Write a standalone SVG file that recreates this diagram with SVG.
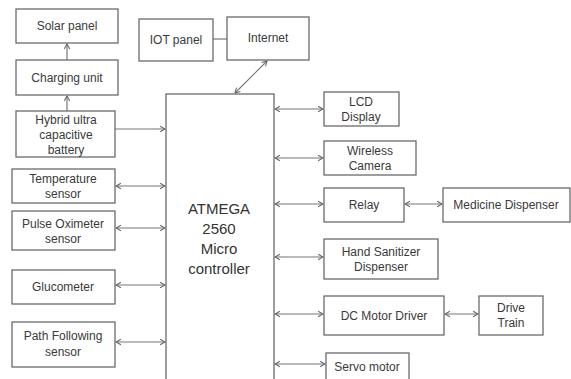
<svg xmlns="http://www.w3.org/2000/svg" width="571" height="379" viewBox="0 0 571 379">
<style>
.box{fill:#fff;stroke:#6b6b6b;stroke-width:1.3}
.t{font-family:"Liberation Sans",Arial,sans-serif;font-size:12px;fill:#3a3a3a;text-anchor:middle}
.big{font-family:"Liberation Sans",Arial,sans-serif;font-size:15px;fill:#333;text-anchor:middle}
.c{stroke:#777;stroke-width:1.2;fill:none}
</style>
<defs>
<marker id="ah" viewBox="0 0 10 10" refX="9" refY="5" markerWidth="7" markerHeight="7" markerUnits="userSpaceOnUse" orient="auto-start-reverse">
<path d="M2,1 L9,5 L2,9" fill="none" stroke="#666" stroke-width="1.5"/>
</marker>
</defs>
<rect width="571" height="379" fill="#fff"/>
<g id="connectors">
<line class="c" x1="67" y1="111" x2="67" y2="96" marker-end="url(#ah)"/>
<line class="c" x1="67" y1="60" x2="67" y2="44" marker-end="url(#ah)"/>
<line class="c" x1="213" y1="39" x2="227" y2="39"/>
<line class="c" x1="267" y1="61" x2="235" y2="93" marker-start="url(#ah)" marker-end="url(#ah)"/>
<line class="c" x1="115" y1="129" x2="165" y2="129" marker-end="url(#ah)"/>
<line class="c" x1="116" y1="186" x2="165" y2="186" marker-start="url(#ah)" marker-end="url(#ah)"/>
<line class="c" x1="116" y1="228" x2="165" y2="228" marker-start="url(#ah)" marker-end="url(#ah)"/>
<line class="c" x1="116" y1="285" x2="165" y2="285" marker-start="url(#ah)" marker-end="url(#ah)"/>
<line class="c" x1="116" y1="342" x2="165" y2="342" marker-start="url(#ah)" marker-end="url(#ah)"/>
<line class="c" x1="275" y1="109" x2="323" y2="109" marker-start="url(#ah)" marker-end="url(#ah)"/>
<line class="c" x1="275" y1="158" x2="323" y2="158" marker-start="url(#ah)" marker-end="url(#ah)"/>
<line class="c" x1="275" y1="204" x2="323" y2="204" marker-start="url(#ah)" marker-end="url(#ah)"/>
<line class="c" x1="405" y1="204" x2="442" y2="204" marker-start="url(#ah)" marker-end="url(#ah)"/>
<line class="c" x1="275" y1="257" x2="323" y2="257" marker-start="url(#ah)" marker-end="url(#ah)"/>
<line class="c" x1="275" y1="314" x2="323" y2="314" marker-start="url(#ah)" marker-end="url(#ah)"/>
<line class="c" x1="445" y1="314" x2="478" y2="314" marker-start="url(#ah)" marker-end="url(#ah)"/>
<line class="c" x1="275" y1="364" x2="325" y2="364" marker-start="url(#ah)" marker-end="url(#ah)"/>
</g>
<g id="solar"><rect class="box" x="16" y="9" width="102" height="34"/><text class="t" x="67" y="30">Solar panel</text></g>
<g id="charging"><rect class="box" x="16" y="60" width="102" height="35"/><text class="t" x="67" y="82">Charging unit</text></g>
<g id="battery"><rect class="box" x="16" y="111" width="99" height="46"/><text class="t" x="66" y="124">Hybrid ultra</text><text class="t" x="66" y="139">capacitive</text><text class="t" x="66" y="154">battery</text></g>
<g id="iot"><rect class="box" x="139" y="19" width="74" height="42"/><text class="t" x="176" y="44">IOT panel</text></g>
<g id="internet"><rect class="box" x="227" y="17" width="82" height="43"/><text class="t" x="268" y="42">Internet</text></g>
<g id="mcu"><rect class="box" x="166" y="94" width="108" height="300"/><text class="big" x="219" y="214">ATMEGA</text><text class="big" x="219" y="234">2560</text><text class="big" x="219" y="254">Micro</text><text class="big" x="219" y="274">controller</text></g>
<g id="temp"><rect class="box" x="12" y="169" width="103" height="34"/><text class="t" x="63" y="183">Temperature</text><text class="t" x="63" y="198">sensor</text></g>
<g id="pulse"><rect class="box" x="12" y="211" width="103" height="39"/><text class="t" x="63" y="228">Pulse Oximeter</text><text class="t" x="63" y="243">sensor</text></g>
<g id="gluco"><rect class="box" x="12" y="270" width="103" height="34"/><text class="t" x="63" y="291">Glucometer</text></g>
<g id="path"><rect class="box" x="12" y="322" width="103" height="45"/><text class="t" x="63" y="340">Path Following</text><text class="t" x="63" y="356">sensor</text></g>
<g id="lcd"><rect class="box" x="324" y="92" width="75" height="34"/><text class="t" x="361" y="106">LCD</text><text class="t" x="361" y="121">Display</text></g>
<g id="camera"><rect class="box" x="324" y="141" width="92" height="34"/><text class="t" x="370" y="155">Wireless</text><text class="t" x="370" y="170">Camera</text></g>
<g id="relay"><rect class="box" x="324" y="188" width="80" height="34"/><text class="t" x="364" y="209">Relay</text></g>
<g id="medicine"><rect class="box" x="443" y="188" width="127" height="34"/><text class="t" x="506" y="209">Medicine Dispenser</text></g>
<g id="sanitizer"><rect class="box" x="324" y="239" width="114" height="40"/><text class="t" x="381" y="256">Hand Sanitizer</text><text class="t" x="381" y="271">Dispenser</text></g>
<g id="dcmotor"><rect class="box" x="324" y="296" width="120" height="39"/><text class="t" x="384" y="320">DC Motor Driver</text></g>
<g id="drive"><rect class="box" x="479" y="296" width="64" height="39"/><text class="t" x="511" y="312">Drive</text><text class="t" x="511" y="327">Train</text></g>
<g id="servo"><rect class="box" x="326" y="353" width="83" height="40"/><text class="t" x="367" y="371">Servo motor</text></g>
</svg>
